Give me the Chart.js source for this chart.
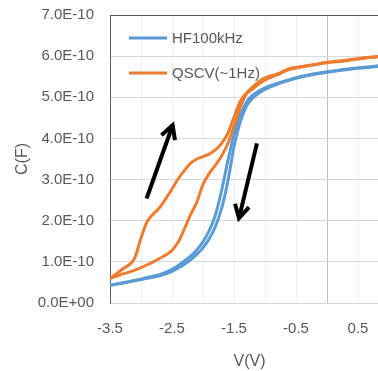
<!DOCTYPE html>
<html>
<head>
<meta charset="utf-8">
<script src="https://cdn.jsdelivr.net/npm/chart.js@4/dist/chart.umd.min.js"></script>
<style>
    html, body { margin: 0; padding: 0; background: #fff; overflow: hidden; }
    #wrap { width: 406px; height: 371px; }
</style>
</head>
<body>
<div id="wrap"><canvas id="cv-chart" width="406" height="371" style="width:406px;height:371px"></canvas></div>
<script>
// Data (C in units of 1E-10 F)
const seriesNames = ['HF100kHz', 'QSCV(~1Hz)'];
const vSweep = [-3.5, -3.3, -3.1, -3.0, -2.9, -2.7, -2.5, -2.4, -2.3, -2.2, -2.1, -2.0, -1.9, -1.8, -1.7, -1.6,
    -1.5, -1.4, -1.3, -1.2, -1.1, -1.0, -0.8, -0.6, -0.4, -0.2, 0, 0.2, 0.4, 0.6, 0.8, 1.0];
const hfLeft = [0.43, 0.49, 0.55, 0.58, 0.62, 0.69, 0.82, 0.91, 1.02, 1.14, 1.29, 1.49, 1.76, 2.14, 2.73, 3.45,
    4.10, 4.56, 4.88, 5.05, 5.15, 5.23, 5.34, 5.43, 5.51, 5.57, 5.62, 5.66, 5.70, 5.73, 5.76, 5.79];
const hfRight = [0.43, 0.48, 0.54, 0.57, 0.60, 0.66, 0.77, 0.85, 0.94, 1.05, 1.18, 1.34, 1.56, 1.86, 2.30, 2.95,
    3.80, 4.40, 4.78, 4.98, 5.10, 5.19, 5.32, 5.42, 5.50, 5.56, 5.61, 5.65, 5.69, 5.72, 5.75, 5.78];
const qsLeft = [0.60, 0.82, 1.10, 1.58, 1.98, 2.32, 2.77, 3.02, 3.22, 3.40, 3.50, 3.56, 3.62, 3.72, 3.88, 4.12,
    4.52, 4.90, 5.10, 5.25, 5.38, 5.47, 5.57, 5.70, 5.75, 5.80, 5.85, 5.88, 5.92, 5.96, 5.99, 6.02];
const qsRight = [0.60, 0.70, 0.80, 0.86, 0.93, 1.08, 1.28, 1.48, 1.80, 2.15, 2.45, 2.88, 3.15, 3.35, 3.57, 3.87,
    4.30, 4.75, 5.08, 5.20, 5.32, 5.42, 5.55, 5.68, 5.74, 5.79, 5.84, 5.87, 5.91, 5.95, 5.98, 6.01];
const xLabeled = [-3.5, -2.5, -1.5, -0.5, 0.5];
// sweep arrows [V0, C0, V1, C1]
const arrows = [[-2.91, 2.54, -2.49, 4.32], [-1.13, 3.88, -1.42, 2.06]];

const colors = ['#5B9BD5', '#ED7D31'];
const textColor = '#595959';

function pts(ys) {
    return vSweep.map(function(v, i) { return { x: v, y: ys[i] }; });
}

function sci(v) {
    const s = (v * 1e-10).toExponential(1).toUpperCase();
    return s.replace(/E([+-])(\d)$/, function(m, sg, d) { return 'E' + sg + '0' + d; });
}

function line(data, color, order) {
    return {
        data: data,
        borderColor: color,
        borderWidth: 3,
        pointRadius: 0,
        showLine: true,
        fill: false,
        cubicInterpolationMode: 'monotone',
        order: order
    };
}

const extras = {
    id: 'extras',
    afterDatasetsDraw(chart) {
        const ctx = chart.ctx;
        const a = chart.chartArea;
        const xs = chart.scales.x, ys = chart.scales.y;

        // legend inside plot
        ctx.save();
        ctx.font = '15px "Liberation Sans", Arial, sans-serif';
        ctx.textBaseline = 'middle';
        seriesNames.forEach(function(name, i) {
            const y = a.top + 23 + i * 35;
            ctx.strokeStyle = colors[i];
            ctx.lineWidth = 3;
            ctx.beginPath();
            ctx.moveTo(a.left + 19, y);
            ctx.lineTo(a.left + 57, y);
            ctx.stroke();
            ctx.fillStyle = textColor;
            ctx.fillText(name, a.left + 62, y + 1);
        });

        // arrows
        ctx.strokeStyle = '#000';
        ctx.lineWidth = 4;
        ctx.lineCap = 'butt';
        ctx.lineJoin = 'miter';
        arrows.forEach(function(ar) {
            const x0 = xs.getPixelForValue(ar[0]), y0 = ys.getPixelForValue(ar[1]);
            const x1 = xs.getPixelForValue(ar[2]), y1 = ys.getPixelForValue(ar[3]);
            const ang = Math.atan2(y1 - y0, x1 - x0);
            const hl = 15, ha = 0.5;
            ctx.beginPath();
            ctx.moveTo(x0, y0);
            ctx.lineTo(x1, y1);
            ctx.stroke();
            ctx.beginPath();
            ctx.moveTo(x1 - hl * Math.cos(ang - ha), y1 - hl * Math.sin(ang - ha));
            ctx.lineTo(x1, y1);
            ctx.lineTo(x1 - hl * Math.cos(ang + ha), y1 - hl * Math.sin(ang + ha));
            ctx.stroke();
        });
        ctx.restore();
    }
};

Chart.defaults.font.family = '"Liberation Sans", Arial, sans-serif';
Chart.defaults.font.size = 15;
Chart.defaults.color = textColor;

const cvChart = new Chart(document.getElementById('cv-chart'), {
    type: 'scatter',
    data: {
        datasets: [
            line(pts(hfLeft), colors[0], 2),
            line(pts(hfRight), colors[0], 2),
            line(pts(qsLeft), colors[1], 1),
            line(pts(qsRight), colors[1], 1)
        ]
    },
    options: {
        responsive: false,
        animation: false,
        layout: { padding: { top: 15, right: 1, left: 0, bottom: 0 } },
        plugins: {
            legend: { display: false },
            tooltip: { enabled: false }
        },
        scales: {
            x: {
                type: 'linear',
                min: -3.5,
                max: 1.0,
                afterFit: function(s) { s.height = 68; },
                ticks: {
                    stepSize: 0.5,
                    padding: 17,
                    maxRotation: 0,
                    autoSkip: false,
                    callback: function(v) {
                        return xLabeled.some(function(t) { return Math.abs(t - v) < 1e-6; }) ? String(v) : '';
                    }
                },
                grid: {
                    drawTicks: false,
                    color: function(c) {
                        return c.tick && Math.abs(c.tick.value) < 1e-6 ? '#bfbfbf' : '#f0f0f0';
                    }
                },
                border: { color: '#d9d9d9' },
                title: {
                    display: true,
                    text: 'V(V)',
                    font: { size: 16 },
                    padding: { top: 0, bottom: 0 }
                }
            },
            y: {
                min: 0,
                max: 7,
                afterFit: function(s) {
                    s.width = 110;
                    s.paddingTop = 0;
                    s.paddingBottom = 0;
                },
                ticks: {
                    stepSize: 1,
                    padding: 16,
                    callback: function(v) { return sci(v); }
                },
                grid: {
                    drawTicks: false,
                    color: function(c) {
                        return c.tick && c.tick.value >= 7 ? '#595959' : '#d9d9d9';
                    }
                },
                border: { color: '#595959' },
                title: {
                    display: true,
                    text: 'C(F)',
                    font: { size: 16 },
                    padding: { top: 13, bottom: 0 }
                }
            }
        }
    },
    plugins: [extras]
});
</script>
</body>
</html>
